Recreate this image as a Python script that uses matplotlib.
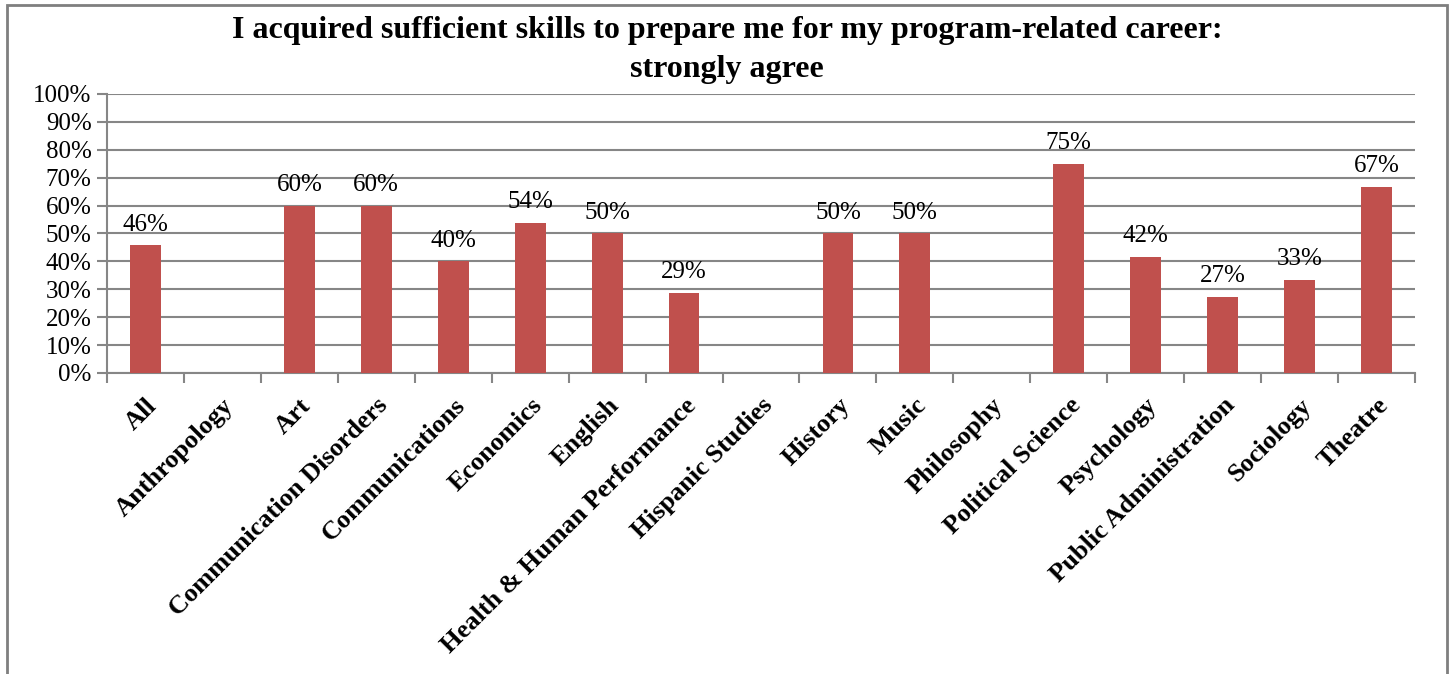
import matplotlib
matplotlib.use("Agg")
import matplotlib.pyplot as plt
from matplotlib.patches import Rectangle
from matplotlib.ticker import FixedLocator, NullFormatter, FuncFormatter

programs = ["All", "Anthropology", "Art", "Communication Disorders", "Communications",
            "Economics", "English", "Health & Human Performance", "Hispanic Studies",
            "History", "Music", "Philosophy", "Political Science", "Psychology",
            "Public Administration", "Sociology", "Theatre"]
# fraction answering "strongly agree" (None = no responses shown)
strongly_agree = [0.457, None, 0.60, 0.60, 0.40, 0.538, 0.50, 0.286, None,
                  0.50, 0.50, None, 0.75, 0.417, 0.273, 0.333, 0.667]
value_labels = ["46%", "", "60%", "60%", "40%", "54%", "50%", "29%", "",
                "50%", "50%", "", "75%", "42%", "27%", "33%", "67%"]

BAR = "#C0504D"
GRID = "#868686"
plt.rcParams.update({"font.family": "Liberation Serif"})

fig = plt.figure(figsize=(14.5, 6.74), dpi=100)
ax = fig.add_axes([107 / 1450, 1 - 373 / 674, 1308 / 1450, 279 / 674])

xs = list(range(len(programs)))
heights = [v if v is not None else 0 for v in strongly_agree]
ax.bar(xs, heights, width=0.4, color=BAR, zorder=3)
for x, v, lbl in zip(xs, strongly_agree, value_labels):
    if v is not None and lbl:
        ax.text(x, v + 0.035, lbl, ha="center", va="bottom", fontsize=18, zorder=4)

ax.set_xlim(-0.5, len(programs) - 0.5)
ax.set_ylim(0, 1.0)
ax.yaxis.set_major_locator(FixedLocator([i / 10 for i in range(11)]))
ax.yaxis.set_major_formatter(FuncFormatter(lambda v, p: f"{round(v * 100)}%"))
ax.yaxis.grid(True, color=GRID, linewidth=1.5, zorder=0)
ax.tick_params(axis="y", labelsize=18, length=7, width=1.5, color=GRID, pad=4)

# category boundary ticks, labels at centres
ax.xaxis.set_major_locator(FixedLocator([i - 0.5 for i in range(len(programs) + 1)]))
ax.xaxis.set_major_formatter(NullFormatter())
ax.tick_params(axis="x", which="major", length=7, width=1.5, color=GRID)
ax.tick_params(axis="x", which="minor", length=0)
ax.set_xticks(xs, minor=True)
ax.set_xticklabels(programs, minor=True, rotation=45, ha="right",
                   rotation_mode="anchor", fontsize=19, fontweight="bold")
ax.tick_params(axis="x", which="minor", pad=15)

for side in ("top", "right"):
    ax.spines[side].set_visible(False)
for side in ("left", "bottom"):
    ax.spines[side].set_color(GRID)
    ax.spines[side].set_linewidth(1.5)

fig.text(0.5 * (232 + 1222) / 1450, 1 - 50 / 674,
         "I acquired sufficient skills to prepare me for my program-related career:\nstrongly agree",
         ha="center", va="center", fontsize=23, fontweight="bold", linespacing=1.45)

fig.patches.append(Rectangle((7 / 1450, -0.1), 1440 / 1450, 1.1 - 5 / 674,
                             transform=fig.transFigure, fill=False,
                             edgecolor="#7f7f7f", linewidth=2))

fig.savefig("out.png", dpi=100)
